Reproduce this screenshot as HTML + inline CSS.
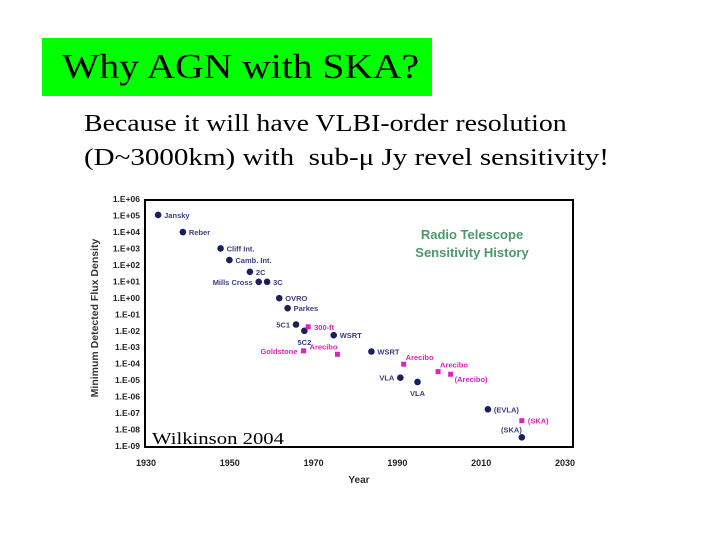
<!DOCTYPE html>
<html><head><meta charset="utf-8"><style>
body{margin:0;width:720px;height:540px;background:#fff;overflow:hidden;position:relative;font-family:"Liberation Serif",serif}
#title{position:absolute;left:42px;top:38px;width:390px;height:58px;background:#00ff00;box-sizing:border-box;padding-left:20px}
#title span{display:inline-block;font-size:35px;line-height:58px;transform:scaleX(1.13);transform-origin:0 50%;white-space:nowrap}
.t{position:absolute;left:84px;font-size:24px;white-space:nowrap;transform:scaleX(1.16);transform-origin:0 50%}
svg{position:absolute;left:0;top:0}
</style></head><body>
<div id="title"><span>Why AGN with SKA?</span></div>
<div class="t" style="top:111px">Because it will have VLBI-order resolution</div>
<div class="t" style="top:145px;transform:scaleX(1.21)">(D~3000km) with &nbsp;sub-μ Jy revel sensitivity!</div>
<svg id="chart" width="720" height="540"></svg>
<script>
const names=["Jansky","Reber","Cliff  Int.","Camb. Int.","2C","Mills Cross","3C","OVRO","Parkes","5C1","5C2","300-ft","WSRT","Goldstone","Arecibo","WSRT","Arecibo","VLA","VLA","Arecibo","(Arecibo)","(EVLA)","(SKA)","(SKA)"];
const years=[1932.9,1938.8,1947.8,1949.9,1954.8,1956.9,1958.9,1961.8,1963.8,1965.8,1967.8,1968.7,1974.8,1967.6,1975.7,1983.8,1991.5,1990.7,1994.8,1999.7,2002.7,2011.6,2019.7,2019.7];
const logFlux=[5.03,3.99,3.0,2.29,1.58,0.97,0.97,-0.02,-0.63,-1.62,-2.0,-1.76,-2.27,-3.22,-3.43,-3.26,-4.03,-4.85,-5.11,-4.48,-4.64,-6.77,-7.46,-8.47];
const kinds=["c","c","c","c","c","c","c","c","c","c","c","s","c","s","s","c","s","c","c","s","s","c","s","c"];
const labelPos=["r","r","r","r","r","l","r","r","r","l","b","r","r","l","t","r","tr","l","b","tr","br","r","r","t"];
const yearTicks=[1930,1950,1970,1990,2010,2030];
const expTicks=[6,5,4,3,2,1,0,-1,-2,-3,-4,-5,-6,-7,-8,-9];
const svg=document.getElementById('chart');const NS='http://www.w3.org/2000/svg';
const X=y=>146+(y-1930)*4.19, Y=e=>199+(6-e)*16.47;
function mk(t,a,txt){const e=document.createElementNS(NS,t);for(const k in a)e.setAttribute(k,a[k]);if(txt!=null)e.textContent=txt;svg.appendChild(e);return e;}
let f=mk('rect',{x:145,y:200,width:428,height:247,fill:'none',stroke:'#000','stroke-width':2});

yearTicks.forEach(t=>{let e=mk('text',{x:X(t),y:466,'font-size':9,'font-weight':'bold','font-family':'Liberation Sans,sans-serif','text-anchor':'middle',fill:'#222'},t);
});
expTicks.forEach(t=>{const s=t>=0?'1.E+'+String(t).padStart(2,'0'):'1.E-'+String(-t).padStart(2,'0');
let e=mk('text',{x:140,y:Y(t)+3,'font-size':8.5,'font-weight':'bold','font-family':'Liberation Sans,sans-serif','text-anchor':'end',fill:'#222'},s);
});
let xt=mk('text',{x:359,y:483,'font-size':10,'font-weight':'bold','font-family':'Liberation Sans,sans-serif','text-anchor':'middle',fill:'#333'},'Year');

let yt=mk('text',{x:0,y:0,'font-size':10.5,'font-weight':'bold','font-family':'Liberation Sans,sans-serif','text-anchor':'middle',fill:'#333',transform:'translate(98,318) rotate(-90)'},'Minimum Detected Flux Density');

let h1=mk('text',{x:472,y:239,'font-size':13,'font-weight':'bold','font-family':'Liberation Sans,sans-serif','text-anchor':'middle',fill:'#4a9a6a'},'Radio Telescope');

let h2=mk('text',{x:472,y:257,'font-size':13,'font-weight':'bold','font-family':'Liberation Sans,sans-serif','text-anchor':'middle',fill:'#4a9a6a'},'Sensitivity History');

names.forEach((n,i)=>{const x=X(years[i]),y=Y(logFlux[i]);const navy=kinds[i]=='c';const col=navy?'#1a1f5e':'#e020c0';
let m=navy?mk('circle',{cx:x,cy:y,r:3.3,fill:col}):mk('rect',{x:x-2.5,y:y-2.5,width:5,height:5,fill:col});

let lx=x+6,ly=y+3,an='start';const p=labelPos[i];
if(p=='l'){lx=x-6;an='end';}if(p=='b'){lx=x;an='middle';ly=y+14;}if(p=='t'){lx=x;an='end';ly=y-5;}
if(p=='tr'){lx=x+2;ly=y-4;}if(p=='br'){lx=x+4;ly=y+8;}
let l=mk('text',{x:lx,y:ly,'font-size':7.5,'font-weight':'bold','font-family':'Liberation Sans,sans-serif','text-anchor':an,fill:navy?'#3a3f7e':'#e020c0'},n);
});
let w=mk('text',{x:152,y:444,'font-size':17,'font-family':'Liberation Serif,serif',fill:'#000',textLength:132,lengthAdjust:'spacingAndGlyphs'},'Wilkinson  2004');

</script>
</body></html>
